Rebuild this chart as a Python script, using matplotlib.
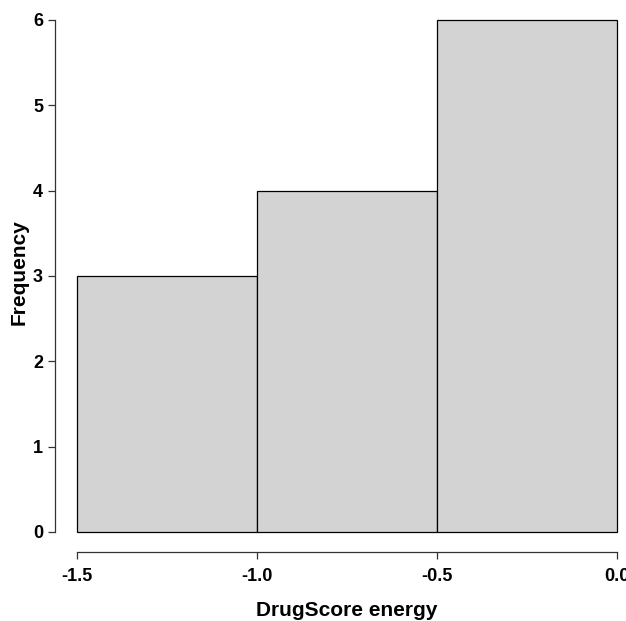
import matplotlib
matplotlib.use("Agg")
import matplotlib.pyplot as plt

bin_edges = [-1.5, -1.0, -0.5, 0.0]
counts = [3, 4, 6]
x_ticks = [-1.5, -1.0, -0.5, 0.0]
x_tick_labels = ["-1.5", "-1.0", "-0.5", "0.0"]
y_ticks = [0, 1, 2, 3, 4, 5, 6]

plt.rcParams['font.family'] = ['Liberation Sans', 'DejaVu Sans']
plt.rcParams['font.weight'] = 'bold'

PX = 0.72  # points per pixel at 100 dpi

fig = plt.figure(figsize=(6.26, 6.21), dpi=100)
ax = fig.add_axes([77/626, (621-532)/621, 540/626, 512/621])

lefts = bin_edges[:-1]
widths = [bin_edges[i+1] - bin_edges[i] for i in range(len(counts))]
ax.bar(lefts, counts, width=widths, align='edge', color='#d3d3d3',
       edgecolor='black', linewidth=0.9, clip_on=False)

ax.set_xlim(-1.5, 0.0)
ax.set_ylim(0, 6)
for s in ['top', 'right']:
    ax.spines[s].set_visible(False)
ax.spines['left'].set_position(('outward', 22 * PX))
ax.spines['bottom'].set_position(('outward', 20 * PX))
ax.spines['left'].set_bounds(0, 6)
ax.spines['bottom'].set_bounds(-1.5, 0.0)
for s in ['left', 'bottom']:
    ax.spines[s].set_linewidth(0.9)
    ax.spines[s].set_color('#333333')

ax.set_xticks(x_ticks)
ax.set_xticklabels(x_tick_labels)
ax.set_yticks(y_ticks)
ax.tick_params(axis='both', labelsize=13, length=7 * PX, width=0.9, color='#333333')
ax.tick_params(axis='y', pad=5 * PX)
ax.tick_params(axis='x', pad=9 * PX)

fig.text(347/626, 1 - 616/621, "DrugScore energy", fontsize=15, fontweight='bold',
         ha='center', va='baseline')
fig.text(19/626, 1 - 272/621, "Frequency", fontsize=15, fontweight='bold',
         ha='center', va='center', rotation=90)

fig.savefig("out.png", dpi=100)
